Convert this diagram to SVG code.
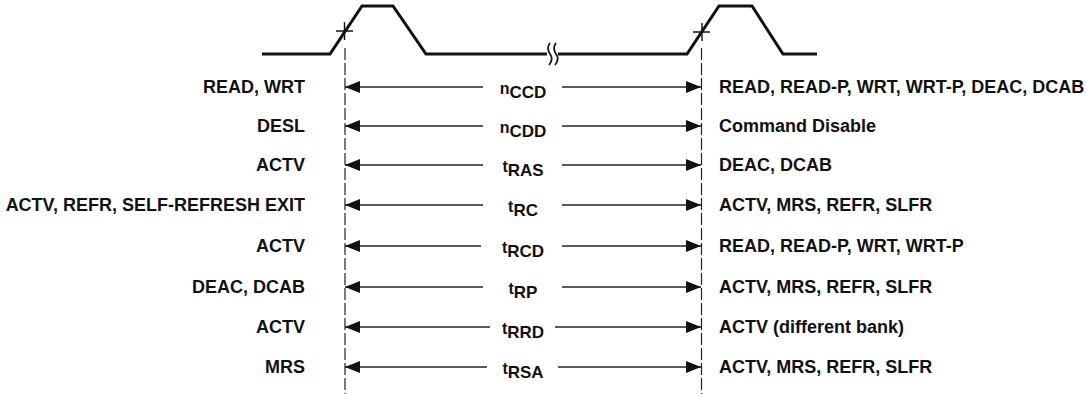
<svg xmlns="http://www.w3.org/2000/svg" width="1087" height="394" viewBox="0 0 1087 394">
<style>
  .wave { fill: none; stroke: #111; stroke-width: 3; stroke-linejoin: miter; }
  .tick { fill: none; stroke: #111; stroke-width: 1.4; }
  .brk { fill: none; stroke: #111; stroke-width: 1.8; }
  .guide { fill: none; stroke: #222; stroke-width: 1.2; stroke-dasharray: 12 3; }
  .conn { fill: none; stroke: #222; stroke-width: 1.4; }
  .lbl { font-family: "Liberation Sans", Arial, sans-serif; font-weight: bold; font-size: 18px; fill: #111; }
  .left { text-anchor: end; }
  .mid { font-family: "Liberation Sans", Arial, sans-serif; text-anchor: middle; fill: #111; }
  .pre { font-size: 16px; font-weight: bold; }
  .sub { font-size: 17px; font-weight: bold; }
</style>
<defs>
  <marker id="ah" viewBox="0 0 15 12" refX="15" refY="6" markerWidth="15" markerHeight="12" markerUnits="userSpaceOnUse" orient="auto">
    <path d="M0,0 L15,6 L0,12 z" fill="#111"/>
  </marker>
</defs>
<rect width="1087" height="394" fill="#fff"/>

<g id="waveform">
  <polyline class="wave" points="262,54 330,54 362,6 393,6 426,54 547,54"/>
  <polyline class="wave" points="558,54 687,54 719,6 752,6 783,54 817,54"/>
  <path class="brk" d="M550,43 q-4,5 0,11 q4,5 -1,11"/>
  <path class="brk" d="M556,43 q-4,5 0,11 q4,5 -1,11"/>
  <path class="tick" d="M336,31 H353 M344.5,22 V40"/>
  <path class="tick" d="M693,32 H710 M702,23 V41"/>
</g>

<g id="guides">
  <line class="guide" x1="345" y1="48" x2="345" y2="394"/>
  <line class="guide" x1="701.5" y1="48" x2="701.5" y2="394"/>
</g>

<g id="connectors">
  <line class="conn" x1="483" y1="87" x2="345" y2="87" marker-end="url(#ah)"/>
  <line class="conn" x1="562" y1="87" x2="701" y2="87" marker-end="url(#ah)"/>
  <line class="conn" x1="483" y1="126" x2="345" y2="126" marker-end="url(#ah)"/>
  <line class="conn" x1="562" y1="126" x2="701" y2="126" marker-end="url(#ah)"/>
  <line class="conn" x1="483" y1="165" x2="345" y2="165" marker-end="url(#ah)"/>
  <line class="conn" x1="562" y1="165" x2="701" y2="165" marker-end="url(#ah)"/>
  <line class="conn" x1="483" y1="205" x2="345" y2="205" marker-end="url(#ah)"/>
  <line class="conn" x1="562" y1="205" x2="701" y2="205" marker-end="url(#ah)"/>
  <line class="conn" x1="481" y1="246" x2="345" y2="246" marker-end="url(#ah)"/>
  <line class="conn" x1="562" y1="246" x2="701" y2="246" marker-end="url(#ah)"/>
  <line class="conn" x1="483" y1="287" x2="345" y2="287" marker-end="url(#ah)"/>
  <line class="conn" x1="562" y1="287" x2="701" y2="287" marker-end="url(#ah)"/>
  <line class="conn" x1="490" y1="327" x2="345" y2="327" marker-end="url(#ah)"/>
  <line class="conn" x1="555" y1="327" x2="701" y2="327" marker-end="url(#ah)"/>
  <line class="conn" x1="487" y1="367" x2="345" y2="367" marker-end="url(#ah)"/>
  <line class="conn" x1="558" y1="367" x2="701" y2="367" marker-end="url(#ah)"/>
</g>

<g id="row-nCCD">
  <text class="lbl left" x="305" y="93">READ, WRT</text>
  <text class="mid" x="523" y="93.5"><tspan class="pre">n</tspan><tspan class="sub" dy="4">CCD</tspan></text>
  <text class="lbl" x="719" y="93">READ, READ-P, WRT, WRT-P, DEAC, DCAB</text>
</g>
<g id="row-nCDD">
  <text class="lbl left" x="305" y="132">DESL</text>
  <text class="mid" x="523" y="132.5"><tspan class="pre">n</tspan><tspan class="sub" dy="4">CDD</tspan></text>
  <text class="lbl" x="719" y="132">Command Disable</text>
</g>
<g id="row-tRAS">
  <text class="lbl left" x="305" y="171">ACTV</text>
  <text class="mid" x="523" y="171.5"><tspan class="pre">t</tspan><tspan class="sub" dy="4">RAS</tspan></text>
  <text class="lbl" x="719" y="171">DEAC, DCAB</text>
</g>
<g id="row-tRC">
  <text class="lbl left" x="305" y="211">ACTV, REFR, SELF-REFRESH EXIT</text>
  <text class="mid" x="523" y="211.5"><tspan class="pre">t</tspan><tspan class="sub" dy="4">RC</tspan></text>
  <text class="lbl" x="719" y="211">ACTV, MRS, REFR, SLFR</text>
</g>
<g id="row-tRCD">
  <text class="lbl left" x="305" y="252">ACTV</text>
  <text class="mid" x="523" y="252.5"><tspan class="pre">t</tspan><tspan class="sub" dy="4">RCD</tspan></text>
  <text class="lbl" x="719" y="252">READ, READ-P, WRT, WRT-P</text>
</g>
<g id="row-tRP">
  <text class="lbl left" x="305" y="293">DEAC, DCAB</text>
  <text class="mid" x="523" y="293.5"><tspan class="pre">t</tspan><tspan class="sub" dy="4">RP</tspan></text>
  <text class="lbl" x="719" y="293">ACTV, MRS, REFR, SLFR</text>
</g>
<g id="row-tRRD">
  <text class="lbl left" x="305" y="333">ACTV</text>
  <text class="mid" x="523" y="333.5"><tspan class="pre">t</tspan><tspan class="sub" dy="4">RRD</tspan></text>
  <text class="lbl" x="719" y="333">ACTV (different bank)</text>
</g>
<g id="row-tRSA">
  <text class="lbl left" x="305" y="373">MRS</text>
  <text class="mid" x="523" y="373.5"><tspan class="pre">t</tspan><tspan class="sub" dy="4">RSA</tspan></text>
  <text class="lbl" x="719" y="373">ACTV, MRS, REFR, SLFR</text>
</g>
</svg>
